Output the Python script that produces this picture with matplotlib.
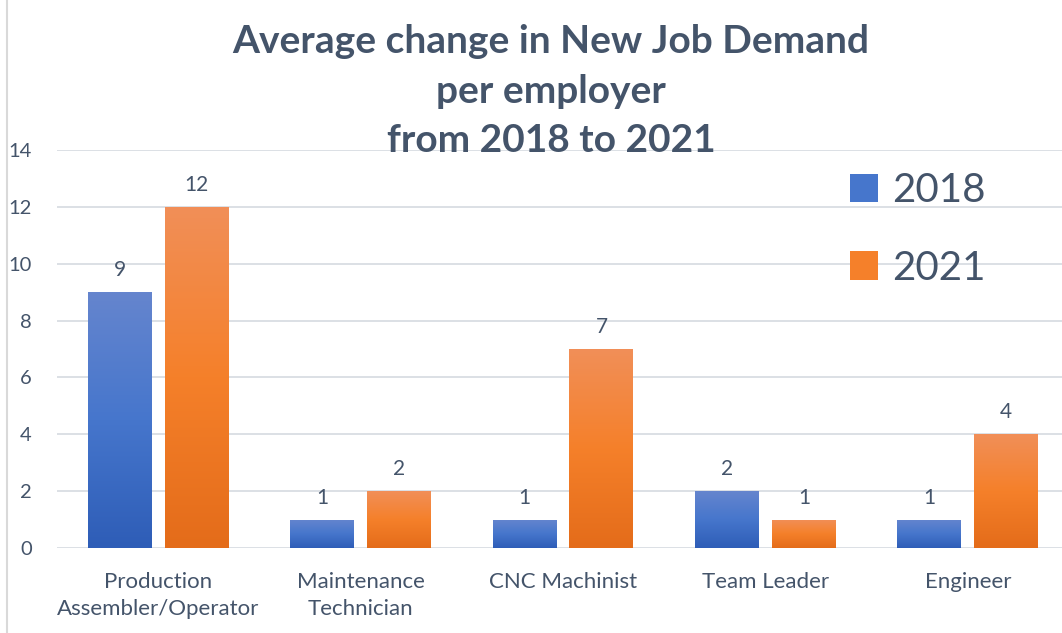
import matplotlib.pyplot as plt
import matplotlib.colors as mcolors
import numpy as np
from matplotlib.lines import Line2D
from matplotlib.patches import Patch

plt.rcParams['font.family'] = ['Lato', 'DejaVu Sans']

# data
categories = ["Production\nAssembler/Operator", "Maintenance\nTechnician",
              "CNC Machinist", "Team Leader", "Engineer"]
vals_2018 = [9, 1, 1, 2, 1]
vals_2021 = [12, 2, 7, 1, 4]
series_names = ["2018", "2021"]

TXT = '#44546A'
blue_cm = mcolors.LinearSegmentedColormap.from_list('b', ['#2E5DB7', '#4676CC', '#6585CE'])
orange_cm = mcolors.LinearSegmentedColormap.from_list('o', ['#E46C1A', '#F5802A', '#F18F58'])

fig = plt.figure(figsize=(10.62, 6.33), dpi=100)
ax = fig.add_axes([57/1062, 85/633, 1012/1062, 398/633])

x = np.arange(len(categories))
w = 0.316
off = 0.19
grad = np.linspace(0, 1, 256).reshape(-1, 1)

for vals, cmap, dx in [(vals_2018, blue_cm, -off), (vals_2021, orange_cm, off)]:
    bars = ax.bar(x + dx, vals, w, color='none', zorder=3)
    for b, v in zip(bars, vals):
        x0, x1 = b.get_x(), b.get_x() + b.get_width()
        im = ax.imshow(grad, cmap=cmap, extent=[x0, x1, 0, v], origin='lower',
                       aspect='auto', zorder=3)
        im.set_clip_path(b)
        ax.text(b.get_x() + b.get_width()/2, v + 0.42, str(v), ha='center', va='bottom',
                fontsize=15, color=TXT, zorder=4)

ax.set_xlim(-0.5, 4.5)
ax.set_ylim(0, 14)
ax.set_yticks(range(0, 15, 2))
ax.set_xticks(x)
ax.set_xticklabels(categories, fontsize=16, color=TXT, linespacing=1.45)
ax.tick_params(axis='y', labelsize=14.5, labelcolor=TXT, length=0, pad=18)
ax.tick_params(axis='x', length=0, pad=17)
ax.grid(axis='y', color='#D9DDE3', lw=1.3, zorder=0)
ax.set_axisbelow(True)
for s in ax.spines.values():
    s.set_visible(False)

# legend
handles = [Patch(facecolor=blue_cm(0.5)), Patch(facecolor=orange_cm(0.5))]
leg = fig.legend(handles, series_names, loc='upper left', bbox_to_anchor=(0.766, 0.785),
                 frameon=False, fontsize=29, handlelength=0.7, handleheight=0.7,
                 handletextpad=0.35, labelspacing=1.0, labelcolor=TXT)

fig.text(0.519, 0.962, "Average change in New Job Demand\nper employer\nfrom 2018 to 2021",
         ha='center', va='top', fontsize=28, fontweight='bold', color=TXT, linespacing=1.5)

# chart frame left edge
fig.add_artist(Line2D([7/1062, 7/1062], [0, 1], color='#D9D9D9', lw=1.5))

fig.savefig("out.png", dpi=100)
